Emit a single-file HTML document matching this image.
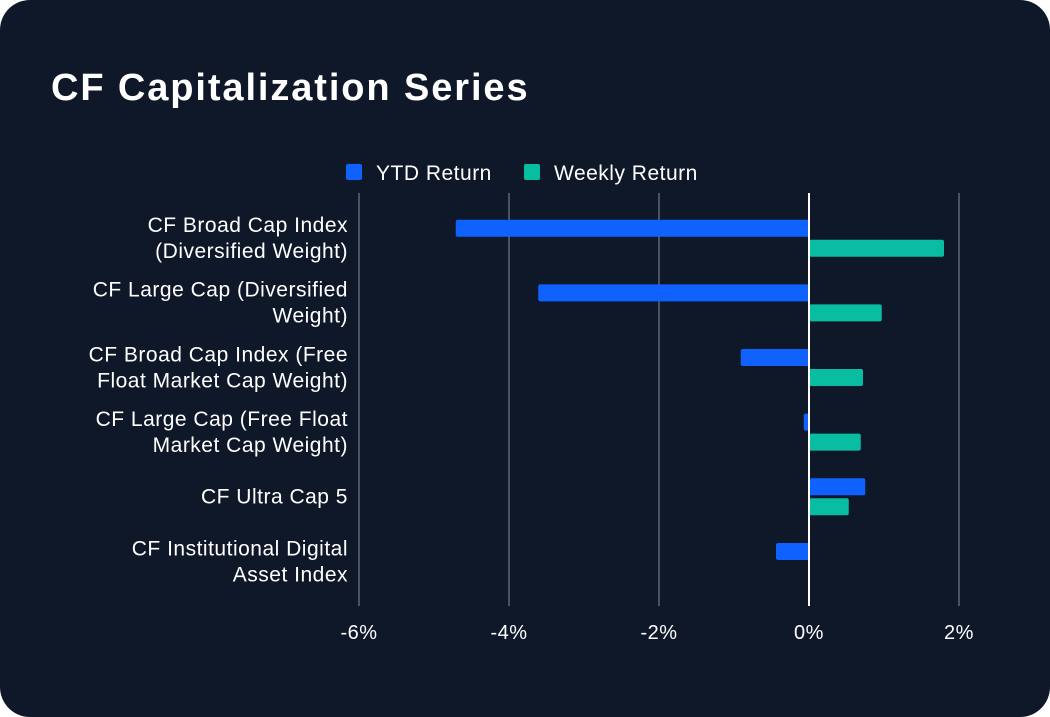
<!DOCTYPE html>
<html><head><meta charset="utf-8"><style>
html,body{margin:0;padding:0;background:#fff;}
#card{position:absolute;left:0;top:0;width:1050px;height:717px;background:#0f1829;border-radius:30px;overflow:hidden;font-family:"Liberation Sans",sans-serif;color:#fff;}
#title{position:absolute;left:51px;top:67px;font-size:38px;font-weight:bold;letter-spacing:1.9px;}
svg text{letter-spacing:0.5px;}
</style></head><body>
<div id="card">
<div id="title">CF Capitalization Series</div>
<svg id="chart" width="1050" height="717" style="position:absolute;left:0;top:0"></svg>
</div>
<script>
const categories=[["CF Broad Cap Index","(Diversified Weight)"],["CF Large Cap (Diversified","Weight)"],["CF Broad Cap Index (Free","Float Market Cap Weight)"],["CF Large Cap (Free Float","Market Cap Weight)"],["CF Ultra Cap 5"],["CF Institutional Digital","Asset Index"]];
const ytd=[-4.71,-3.61,-0.91,-0.07,0.75,-0.44];
const weekly=[1.80,0.97,0.72,0.69,0.53,0];
const ticks=[-6,-4,-2,0,2];
const tickLabels=["-6%","-4%","-2%","0%","2%"];
const seriesNames=["YTD Return","Weekly Return"];
const colors=["#0f62fe","#08bda1"];
const svg=document.getElementById('chart');
const NS="http://www.w3.org/2000/svg";
const x=v=>809+v*75;
const bandTop=205.7,band=64.65;
const y=i=>bandTop+i*band;
function mk(t,a,p){const e=document.createElementNS(NS,t);for(const k in a)e.setAttribute(k,a[k]);(p||svg).appendChild(e);return e;}
ticks.forEach((t,i)=>{
 if(t!==0){const g=mk('line',{x1:x(t),x2:x(t),y1:193,y2:606,stroke:'#4a525e','stroke-width':2});
 
 }
 const l=mk('text',{x:x(t),y:639,'text-anchor':'middle','font-size':20,fill:'#fff'});l.textContent=tickLabels[i];
 
 
});
categories.forEach((c,i)=>{
 const cy=y(i)+band/2;
 const n=c.length;
 c.forEach((s,j)=>{const t=mk('text',{x:348,y:cy+7+(j-(n-1)/2)*26,'text-anchor':'end','font-size':21,fill:'#fff'});t.textContent=s;
 
 });
 [ytd[i],weekly[i]].forEach((v,k)=>{
  if(v===0)return;
  const by=y(i)+14+k*20;
  const r=mk('rect',{x:Math.min(x(0),x(v)),y:by,width:Math.abs(x(v)-x(0)),height:17,rx:2,fill:colors[k]});
  
  
 });
});
const z=mk('line',{x1:x(0),x2:x(0),y1:193,y2:606,stroke:'#ffffff','stroke-width':2});


const lx=[346,524];
seriesNames.forEach((s,k)=>{
 const g=mk('g',{});
 
 
 mk('rect',{x:lx[k],y:164,width:16,height:16,rx:2,fill:colors[k]},g);
 const t=mk('text',{x:lx[k]+30,y:180,'font-size':21,fill:'#fff'},g);t.textContent=s;
});
</script>
</body></html>
